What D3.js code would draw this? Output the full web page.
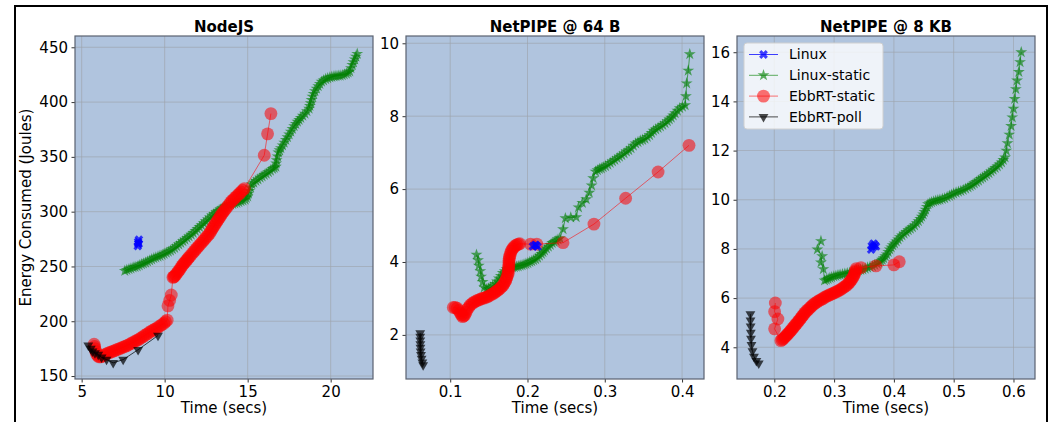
<!DOCTYPE html>
<html><head><meta charset="utf-8">
<script src="https://cdn.jsdelivr.net/npm/d3@7"></script>
<style>
html,body{margin:0;padding:0;background:#fff;}
svg{display:block;font-family:"DejaVu Sans",sans-serif;}
</style></head>
<body><svg id="chart" width="1050" height="422"></svg>
<script>
// ---------- DATA ----------
const seriesNames = ["Linux", "Linux-static", "EbbRT-static", "EbbRT-poll"];
const panelTitles = ["NodeJS", "NetPIPE @ 64 B", "NetPIPE @ 8 KB"];
const xLabel = "Time (secs)";
const yLabel = "Energy Consumed (Joules)";

const nodeXTicks = [5, 10, 15, 20];
const nodeYTicks = [150, 200, 250, 300, 350, 400, 450];
const np64XTicks = [0.1, 0.2, 0.3, 0.4];
const np64YTicks = [2, 4, 6, 8, 10];
const np8XTicks = [0.2, 0.3, 0.4, 0.5, 0.6];
const np8YTicks = [4, 6, 8, 10, 12, 14, 16];

// NodeJS
const nodeLinux = [[8.38,268.5],[8.43,270.5],[8.40,272.5],[8.45,274.5],[8.41,271]];
const nodeLinuxStatic = [[7.6,246],[7.72,246.8],[7.85,247.5],[7.97,248.2],[8.1,249],[8.22,249.5],[8.35,250],[8.47,251],[8.6,252],[8.72,252.7],[8.85,253.5],[8.97,254.5],[9.1,255.5],[9.22,256.5],[9.35,257.5],[9.47,258.2],[9.6,259],[9.72,259.7],[9.85,260.5],[9.97,261.5],[10.1,262.5],[10.22,263.5],[10.35,264.5],[10.47,265.7],[10.6,267],[10.72,268.5],[10.85,270],[10.97,271.5],[11.1,273],[11.22,274.5],[11.35,276],[11.47,277.5],[11.6,279],[11.72,280.7],[11.85,282.5],[11.97,284.2],[12.1,286],[12.22,287.7],[12.35,289.5],[12.47,291.2],[12.6,293],[12.72,294.7],[12.85,296.5],[12.97,298],[13.1,299.5],[13.22,300.7],[13.35,302],[13.47,303.2],[13.6,304.5],[13.72,305.2],[13.85,306],[13.97,306.5],[14.1,307],[14.22,307.5],[14.35,308],[14.47,308.7],[14.6,309.5],[14.72,310.2],[14.85,311],[14.92,312.5],[15.0,314],[15.05,316.5],[15.1,319],[15.17,322],[15.25,325],[15.37,326.5],[15.5,328],[15.62,329.5],[15.75,331],[15.87,332.2],[16.0,333.5],[16.12,334.7],[16.25,336],[16.37,337.5],[16.5,339],[16.6,340],[16.7,341],[16.72,344],[16.75,347],[16.8,350.5],[16.85,354],[16.92,356],[17.0,358],[17.1,360.5],[17.2,363],[17.3,365.5],[17.4,368],[17.5,370.5],[17.6,373],[17.7,375.5],[17.8,378],[17.9,380],[18.0,382],[18.1,383.7],[18.2,385.5],[18.32,387.5],[18.45,389.5],[18.57,391.7],[18.7,394],[18.75,396.5],[18.8,399],[18.85,402],[18.9,405],[18.97,407.5],[19.05,410],[19.15,412.2],[19.25,414.5],[19.35,416.5],[19.45,418.5],[19.57,419.8],[19.7,421],[19.82,421.7],[19.95,422.5],[20.07,423],[20.2,423.5],[20.32,423.7],[20.45,424],[20.57,424.2],[20.7,424.5],[20.82,425.2],[20.95,426],[21.05,427],[21.15,428],[21.22,431],[21.3,434],[21.37,436.5],[21.45,439],[21.52,441.5],[21.6,444]];
const nodeEbbStatic = [[5.75,179],[5.78,177],[5.8,175],[5.85,172.5],[5.9,170],[5.97,168.5],[6.05,167.5],[6.15,167.5],[6.25,168],[6.35,169],[6.45,170],[6.57,170.8],[6.7,171.5],[6.82,172.2],[6.95,173],[7.07,173.8],[7.2,174.5],[7.32,175.2],[7.45,176],[7.57,176.7],[7.7,177.5],[7.82,178.5],[7.95,179.5],[8.07,180.5],[8.2,181.5],[8.32,182.5],[8.45,183.5],[8.57,184.7],[8.7,186],[8.82,187.2],[8.95,188.5],[9.07,189.8],[9.2,191],[9.32,192],[9.45,193],[9.57,194.2],[9.7,195.5],[9.82,196.8],[9.95,198],[10.05,199.5],[10.15,201],[10.2,214],[10.3,219],[10.4,224],[10.5,240],[10.55,240.5],[10.6,241],[10.67,242.5],[10.75,244],[10.82,245.5],[10.9,247],[10.97,248.8],[11.05,250.5],[11.12,252],[11.2,253.5],[11.27,254.7],[11.35,256],[11.42,257.5],[11.5,259],[11.6,260.7],[11.7,262.5],[11.8,264.2],[11.9,266],[12.0,267.7],[12.1,269.5],[12.2,271.2],[12.3,273],[12.4,274.7],[12.5,276.5],[12.6,278.2],[12.7,280],[12.78,282],[12.85,284],[12.92,285.7],[13.0,287.5],[13.07,289.2],[13.15,291],[13.22,292.7],[13.3,294.5],[13.37,296.2],[13.45,298],[13.52,299.5],[13.6,301],[13.7,303],[13.8,305],[13.9,307],[14.0,309],[14.1,310.5],[14.2,312],[14.3,313.5],[14.4,315],[14.5,316.5],[14.6,318],[14.7,319.5],[14.8,321],[16.0,351.5],[16.2,371],[16.4,389.5]];
const nodeEbbPoll = [[5.4,178],[5.55,175],[5.65,172.5],[5.8,171],[6.0,169.5],[6.2,167],[6.5,165],[6.9,162],[7.5,165],[8.4,174],[9.6,187]];

// NetPIPE @ 64 B
const np64Linux = [[0.207,4.43],[0.210,4.47],[0.213,4.42],[0.211,4.46]];
const np64LinuxStatic = [[0.134,4.2],[0.136,4.05],[0.137,3.9],[0.139,3.75],[0.14,3.6],[0.142,3.45],[0.144,3.3],[0.147,3.25],[0.1495,3.27],[0.152,3.3],[0.155,3.35],[0.158,3.4],[0.1605,3.47],[0.163,3.55],[0.1655,3.62],[0.168,3.7],[0.1705,3.75],[0.173,3.8],[0.1755,3.82],[0.178,3.84],[0.1805,3.85],[0.183,3.86],[0.1855,3.87],[0.188,3.88],[0.1905,3.9],[0.193,3.91],[0.1955,3.93],[0.198,3.95],[0.2005,3.97],[0.203,4.0],[0.2055,4.02],[0.208,4.05],[0.2105,4.08],[0.213,4.12],[0.2155,4.17],[0.218,4.22],[0.22,4.27],[0.222,4.32],[0.2245,4.37],[0.227,4.42],[0.2295,4.47],[0.232,4.52],[0.2345,4.55],[0.237,4.58],[0.2395,4.62],[0.242,4.65],[0.246,4.9],[0.249,5.2],[0.256,5.22],[0.263,5.23],[0.266,5.5],[0.271,5.62],[0.276,5.72],[0.28,5.9],[0.283,6.1],[0.285,6.3],[0.288,6.48],[0.2905,6.52],[0.293,6.55],[0.2955,6.57],[0.298,6.6],[0.301,6.63],[0.304,6.67],[0.307,6.72],[0.31,6.76],[0.313,6.8],[0.316,6.85],[0.319,6.89],[0.322,6.93],[0.325,6.98],[0.328,7.03],[0.331,7.07],[0.334,7.12],[0.337,7.19],[0.34,7.25],[0.343,7.29],[0.346,7.33],[0.349,7.35],[0.352,7.38],[0.355,7.43],[0.358,7.48],[0.3605,7.54],[0.363,7.6],[0.366,7.64],[0.369,7.68],[0.372,7.72],[0.375,7.76],[0.378,7.81],[0.381,7.86],[0.3835,7.91],[0.386,7.96],[0.3885,8.02],[0.391,8.08],[0.394,8.15],[0.397,8.22],[0.4005,8.26],[0.404,8.3],[0.405,8.55],[0.406,8.9],[0.408,9.25],[0.41,9.7]];
const np64EbbStatic = [[0.104,2.75],[0.1065,2.75],[0.109,2.73],[0.111,2.67],[0.113,2.6],[0.1145,2.55],[0.116,2.5],[0.1175,2.52],[0.119,2.55],[0.1205,2.62],[0.122,2.7],[0.124,2.76],[0.126,2.82],[0.1285,2.86],[0.131,2.9],[0.1335,2.93],[0.136,2.95],[0.1385,2.97],[0.141,3.0],[0.1435,3.01],[0.146,3.03],[0.1485,3.05],[0.151,3.08],[0.1535,3.11],[0.156,3.14],[0.158,3.17],[0.16,3.2],[0.162,3.23],[0.164,3.27],[0.166,3.31],[0.168,3.35],[0.1695,3.4],[0.171,3.45],[0.172,3.5],[0.173,3.56],[0.174,3.62],[0.175,3.68],[0.1752,3.74],[0.1755,3.8],[0.1757,3.86],[0.176,3.92],[0.176,3.98],[0.176,4.04],[0.1765,4.1],[0.177,4.16],[0.178,4.23],[0.179,4.3],[0.1805,4.35],[0.182,4.4],[0.184,4.44],[0.186,4.47],[0.188,4.49],[0.19,4.5],[0.204,4.49],[0.212,4.49],[0.246,4.53],[0.286,5.04],[0.327,5.75],[0.369,6.47],[0.409,7.2]];
const np64EbbPoll = [[0.0612,2.05],[0.0612,1.95],[0.0613,1.85],[0.0614,1.75],[0.0615,1.65],[0.0617,1.55],[0.0622,1.45],[0.063,1.35],[0.064,1.25],[0.065,1.17]];

// NetPIPE @ 8 KB
const np8Linux = [[0.362,7.97],[0.365,8.07],[0.368,8.15],[0.366,8.22],[0.370,8.1],[0.363,8.12]];
const np8LinuxStatic = [[0.278,8.32],[0.272,7.98],[0.28,7.7],[0.278,7.45],[0.282,7.18],[0.284,6.72],[0.287,6.75],[0.29,6.78],[0.293,6.82],[0.296,6.85],[0.2995,6.88],[0.303,6.9],[0.3065,6.93],[0.31,6.95],[0.314,6.97],[0.318,6.99],[0.322,7.01],[0.326,7.03],[0.33,7.06],[0.334,7.08],[0.3375,7.1],[0.341,7.13],[0.3445,7.15],[0.348,7.17],[0.352,7.2],[0.356,7.24],[0.36,7.27],[0.364,7.3],[0.368,7.35],[0.372,7.4],[0.375,7.45],[0.378,7.5],[0.3805,7.56],[0.383,7.62],[0.3855,7.7],[0.388,7.78],[0.3905,7.88],[0.393,7.98],[0.3955,8.06],[0.398,8.15],[0.401,8.22],[0.404,8.3],[0.407,8.39],[0.41,8.48],[0.4135,8.55],[0.417,8.62],[0.4205,8.69],[0.424,8.76],[0.4275,8.82],[0.431,8.88],[0.4345,8.96],[0.438,9.05],[0.441,9.13],[0.444,9.22],[0.4465,9.31],[0.449,9.4],[0.451,9.5],[0.453,9.6],[0.455,9.71],[0.457,9.82],[0.46,9.86],[0.463,9.9],[0.4665,9.93],[0.47,9.96],[0.4735,9.98],[0.477,10.0],[0.481,10.03],[0.485,10.06],[0.489,10.11],[0.493,10.16],[0.4965,10.2],[0.5,10.25],[0.504,10.29],[0.508,10.33],[0.512,10.36],[0.516,10.4],[0.52,10.45],[0.524,10.5],[0.5275,10.55],[0.531,10.6],[0.5345,10.66],[0.538,10.72],[0.5415,10.78],[0.545,10.85],[0.5485,10.9],[0.552,10.96],[0.5555,11.02],[0.559,11.08],[0.5625,11.15],[0.566,11.22],[0.5695,11.29],[0.573,11.36],[0.5765,11.44],[0.58,11.52],[0.583,11.62],[0.586,11.72],[0.588,12.0],[0.59,12.3],[0.593,12.65],[0.596,13.0],[0.598,13.35],[0.6,13.7],[0.602,14.1],[0.604,14.5],[0.606,14.85],[0.609,15.2],[0.611,15.6],[0.613,16.0]];
const np8EbbStatic = [[0.2017,5.8],[0.2005,5.45],[0.206,5.15],[0.2005,4.75],[0.211,4.27],[0.213,4.31],[0.215,4.35],[0.217,4.4],[0.219,4.45],[0.221,4.5],[0.223,4.55],[0.225,4.6],[0.227,4.66],[0.229,4.72],[0.231,4.78],[0.233,4.84],[0.235,4.9],[0.237,4.96],[0.239,5.02],[0.241,5.08],[0.243,5.14],[0.245,5.2],[0.247,5.27],[0.249,5.33],[0.251,5.4],[0.2535,5.46],[0.256,5.52],[0.2585,5.58],[0.261,5.64],[0.2635,5.7],[0.266,5.75],[0.269,5.8],[0.272,5.85],[0.275,5.9],[0.278,5.94],[0.281,5.98],[0.284,6.03],[0.287,6.07],[0.29,6.1],[0.293,6.14],[0.296,6.17],[0.299,6.2],[0.302,6.24],[0.305,6.27],[0.308,6.31],[0.311,6.35],[0.314,6.4],[0.317,6.45],[0.32,6.5],[0.3225,6.56],[0.325,6.62],[0.327,6.68],[0.329,6.75],[0.331,6.82],[0.333,6.9],[0.334,6.97],[0.335,7.05],[0.336,7.12],[0.337,7.2],[0.345,7.24],[0.37,7.31],[0.4,7.35],[0.409,7.48]];
const np8EbbPoll = [[0.16,5.35],[0.1602,5.1],[0.1604,4.85],[0.1607,4.6],[0.161,4.35],[0.1618,4.1],[0.1635,3.85],[0.166,3.62],[0.17,3.45],[0.174,3.35]];

// ---------- LAYOUT / STYLE ----------
const panels = [
  {title: panelTitles[0], left: 75, right: 373, xd: [4.6, 22.55], yd: [147.3, 460.3], xt: nodeXTicks, yt: nodeYTicks,
   series: [nodeLinux, nodeLinuxStatic, nodeEbbStatic, nodeEbbPoll], fmtX: d => d, fmtY: d => d},
  {title: panelTitles[1], left: 406, right: 704, xd: [0.0428, 0.4284], yd: [0.79, 10.2], xt: np64XTicks, yt: np64YTicks,
   series: [np64Linux, np64LinuxStatic, np64EbbStatic, np64EbbPoll], fmtX: d => d3.format(".1f")(d), fmtY: d => d},
  {title: panelTitles[2], left: 737, right: 1035, xd: [0.1376, 0.636], yd: [2.71, 16.66], xt: np8XTicks, yt: np8YTicks,
   series: [np8Linux, np8LinuxStatic, np8EbbStatic, np8EbbPoll], fmtX: d => d3.format(".1f")(d), fmtY: d => d, legend: true}
];
const plotTop = 36, plotBottom = 379;

const styles = [
  {color: "#0000ff", alpha: 0.75, sym: d3.symbolCross, size: 48, rot: 45},
  {color: "#008000", alpha: 0.62, sym: d3.symbolStar, size: 44, rot: 0},
  {color: "#ff0000", alpha: 0.55, sym: d3.symbolCircle, size: 130, rot: 0},
  {color: "#000000", alpha: 0.7, sym: d3.symbolTriangle, size: 42, rot: 180}
];
const drawOrder = [1, 2, 0, 3];

const svg = d3.select("#chart");
svg.append("rect").attr("x", 15).attr("y", 6).attr("width", 1032).attr("height", 440)
  .attr("fill", "none").attr("stroke", "#000").attr("stroke-width", 2);

panels.forEach((p, pi) => {
  const x = d3.scaleLinear().domain(p.xd).range([p.left, p.right]);
  const y = d3.scaleLinear().domain(p.yd).range([plotBottom, plotTop]);
  const g = svg.append("g");

  g.append("rect").attr("x", p.left).attr("y", plotTop).attr("width", p.right - p.left).attr("height", plotBottom - plotTop)
    .attr("fill", "#b0c4de");

  // grid
  g.selectAll(".gx").data(p.xt).join("line")
    .attr("x1", d => x(d)).attr("x2", d => x(d)).attr("y1", plotTop).attr("y2", plotBottom)
    .attr("stroke", "#9ea4ac").attr("stroke-width", 0.8).attr("opacity", 0.8);
  g.selectAll(".gy").data(p.yt).join("line")
    .attr("y1", d => y(d)).attr("y2", d => y(d)).attr("x1", p.left).attr("x2", p.right)
    .attr("stroke", "#9ea4ac").attr("stroke-width", 0.8).attr("opacity", 0.8);

  // series
  const clipId = "clip" + pi;
  svg.append("clipPath").attr("id", clipId).append("rect")
    .attr("x", p.left).attr("y", plotTop).attr("width", p.right - p.left).attr("height", plotBottom - plotTop);
  const plot = g.append("g").attr("clip-path", `url(#${clipId})`);
  const line = d3.line().x(d => x(d[0])).y(d => y(d[1]));
  drawOrder.forEach(si => {
    const st = styles[si];
    const data = p.series[si];
    plot.append("path").attr("d", line(data)).attr("fill", "none")
      .attr("stroke", st.color).attr("stroke-opacity", st.alpha).attr("stroke-width", 1);
    const sym = d3.symbol().type(st.sym).size(st.size);
    plot.selectAll(null).data(data).join("path")
      .attr("d", sym)
      .attr("transform", d => `translate(${x(d[0])},${y(d[1])}) rotate(${st.rot})`)
      .attr("fill", st.color).attr("fill-opacity", st.alpha);
  });

  // axes
  const ax = g.append("g").attr("transform", `translate(0,${plotBottom})`)
    .call(d3.axisBottom(x).tickValues(p.xt).tickFormat(p.fmtX).tickSize(3.5).tickPadding(3.5));
  const ay = g.append("g").attr("transform", `translate(${p.left},0)`)
    .call(d3.axisLeft(y).tickValues(p.yt).tickFormat(p.fmtY).tickSize(3.5).tickPadding(3.5));
  [ax, ay].forEach(a => {
    a.select(".domain").remove();
    a.selectAll("line").attr("stroke", "#333");
    a.selectAll("text").attr("font-size", 15).attr("font-family", "DejaVu Sans").attr("fill", "#000");
  });

  // frame
  g.append("rect").attr("x", p.left).attr("y", plotTop).attr("width", p.right - p.left).attr("height", plotBottom - plotTop)
    .attr("fill", "none").attr("stroke", "#5a6270").attr("stroke-width", 1.2);

  // title & labels
  g.append("text").attr("x", (p.left + p.right) / 2).attr("y", 31.5).attr("text-anchor", "middle")
    .attr("font-size", 15).attr("font-weight", "bold").text(p.title);
  g.append("text").attr("x", (p.left + p.right) / 2).attr("y", 413).attr("text-anchor", "middle")
    .attr("font-size", 15).text(xLabel);

  if (p.legend) {
    const lg = g.append("g");
    lg.append("rect").attr("x", 744).attr("y", 43).attr("width", 139).attr("height", 86).attr("rx", 3)
      .attr("fill", "#ffffff").attr("fill-opacity", 0.8).attr("stroke", "#d0d0d0").attr("stroke-width", 1);
    seriesNames.forEach((name, i) => {
      const st = styles[i];
      const cy = 54.5 + i * 20.8;
      lg.append("line").attr("x1", 749).attr("x2", 778).attr("y1", cy).attr("y2", cy)
        .attr("stroke", st.color).attr("stroke-opacity", st.alpha).attr("stroke-width", 1);
      lg.append("path").attr("d", d3.symbol().type(st.sym).size(st.size)())
        .attr("transform", `translate(763.5,${cy}) rotate(${st.rot})`)
        .attr("fill", st.color).attr("fill-opacity", st.alpha);
      lg.append("text").attr("x", 789).attr("y", cy).attr("dy", "0.35em")
        .attr("font-size", 14).text(name);
    });
  }
});

svg.append("text").attr("transform", `translate(31,${(plotTop + plotBottom) / 2}) rotate(-90)`)
  .attr("text-anchor", "middle").attr("font-size", 15).text(yLabel);
</script>
</body></html>
